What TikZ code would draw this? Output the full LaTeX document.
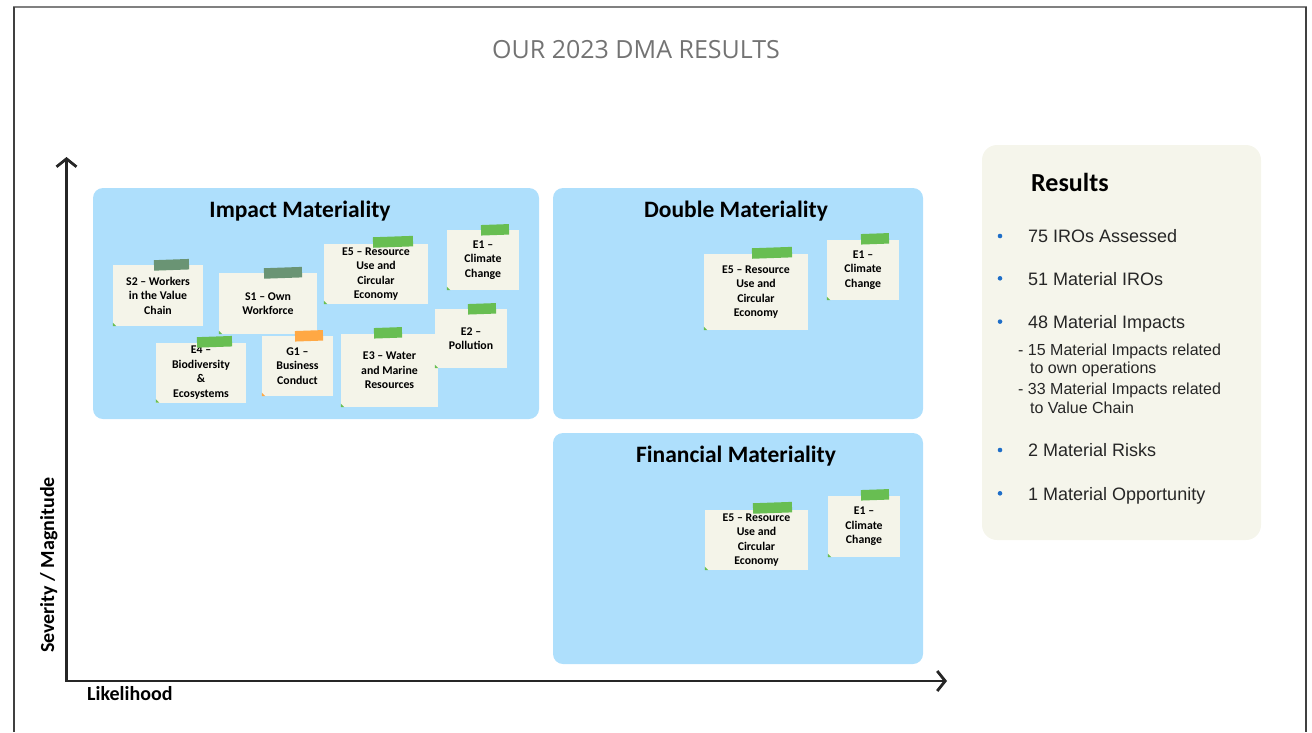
\documentclass[tikz,border=0pt]{standalone}
\usepackage{fontspec}
\setmainfont{Carlito}
\newfontfamily\helvfont{Liberation Sans}
\newfontfamily\titlefont{Open Sans}
\usetikzlibrary{arrows.meta,positioning}

\definecolor{boxblue}{RGB}{174,223,252}
\definecolor{notecream}{RGB}{244,244,233}
\definecolor{resbeige}{RGB}{245,245,235}
\definecolor{tapegreen}{RGB}{104,190,82}
\definecolor{tapegrey}{RGB}{106,148,116}
\definecolor{tapeorange}{RGB}{255,168,68}
\definecolor{axisdark}{RGB}{38,38,38}
\definecolor{titlegrey}{RGB}{115,115,115}
\definecolor{bulletblue}{RGB}{30,110,200}

\tikzset{
  quadrant/.style={fill=boxblue, rounded corners=10pt},
  quadtitle/.style={anchor=base, inner sep=0pt, font=\bfseries\fontsize{23.5}{28}\selectfont},
  note/.style 2 args={fill=notecream, align=center, inner sep=0pt,
    minimum width=#1, minimum height=#2,
    font=\bfseries\fontsize{11.8}{14.5}\selectfont},
  tape/.style 2 args={fill=#1, minimum width=#2, minimum height=10.5pt,
    inner sep=0pt, rotate=2},
  axis/.style={draw=axisdark, line width=2.8pt,
    -{Straight Barb[length=8pt,width=20pt]}},
  axislabel/.style={inner sep=0pt, font=\bfseries\fontsize{20}{24}\selectfont},
  resitem/.style={anchor=base west, inner sep=0pt, text=black!85,
    font=\helvfont\fontsize{18}{22}\selectfont},
  subitem/.style={anchor=base west, inner sep=0pt, text=black!85,
    font=\helvfont\fontsize{16}{19}\selectfont},
  bulletdot/.style={circle, fill=bulletblue, inner sep=0pt, minimum size=4.6pt}
}

\begin{document}
\begin{tikzpicture}[x=1pt,y=-1pt]
\useasboundingbox (0,0) rectangle (1312,732);

% Slide frame
\draw[line width=2pt, black!50] (13,6.5) -- (1307,6.5);
\draw[line width=2pt, black!75] (14,7) -- (14,732);
\draw[line width=2pt, black!75] (1306,7) -- (1306,732);

% Title
\node[anchor=base, inner sep=0pt, text=titlegrey,
  font=\titlefont\fontsize{25}{30}\selectfont] (title) at (636,58) {OUR 2023 DMA RESULTS};

% Axes
\coordinate (O) at (66.5,681);
\coordinate (Ytop) at (66.5,157);
\coordinate (Xend) at (947,681);
\draw[axis] (O) -- (Ytop);
\draw[axis] ([xshift=-1.4pt]O) -- (Xend);
\node[axislabel, anchor=base west] (xlabel) at (87,700) {Likelihood};
\node[axislabel, anchor=base, rotate=90] (ylabel) at (54,565) {Severity / Magnitude};

% The three quadrants
\fill[quadrant] (93,188) rectangle (539,419);
\fill[quadrant] (553,188) rectangle (923,419);
\fill[quadrant] (553,433) rectangle (923,664);
\node[quadtitle] (impact) at (300,217) {Impact Materiality};
\node[quadtitle] (double) at (736,217) {Double Materiality};
\node[quadtitle] (financial) at (736,462) {Financial Materiality};

% Sticky notes: Impact Materiality
\node[note={90pt}{61pt}] (s2) at (158,295.5) {S2 – Workers\\in the Value\\Chain};
\node[tape={tapegrey}{35pt}] (s2tape) at ([xshift=13.5pt,yshift=0pt]s2.north) {};
\node[note={98pt}{61pt}] (s1) at (268,303.5) {S1 – Own\\Workforce};
\node[tape={tapegrey}{38pt}] (s1tape) at ([xshift=15pt]s1.north) {};
\node[note={104pt}{60pt}] (e5i) at (376,274) {E5 – Resource\\Use and\\Circular\\Economy};
\node[tape={tapegreen}{40pt}] (e5itape) at ([xshift=17pt,yshift=2pt]e5i.north) {};
\node[note={72pt}{60pt}] (e1i) at (483,260) {E1 –\\Climate\\Change};
\node[tape={tapegreen}{28pt}] (e1itape) at ([xshift=12pt]e1i.north) {};
\node[note={72pt}{59pt}] (e2i) at (471,338.5) {E2 –\\Pollution};
\node[tape={tapegreen}{28pt}] (e2itape) at ([xshift=11pt]e2i.north) {};
\node[note={90pt}{60pt}] (e4i) at (201,372.5) {E4 –\\Biodiversity\\\&\\Ecosystems};
\node[tape={tapegreen}{35pt}] (e4itape) at ([xshift=13.5pt,yshift=0.5pt]e4i.north) {};
\node[note={71pt}{60pt}] (g1) at (297.5,366) {G1 –\\Business\\Conduct};
\node[tape={tapeorange}{28pt}] (g1tape) at ([xshift=11.5pt]g1.north) {};
\node[note={97pt}{73pt}] (e3i) at (389.5,370.5) {E3 – Water\\and Marine\\Resources};
\node[tape={tapegreen}{28pt}] (e3itape) at ([xshift=-1.5pt,yshift=1pt]e3i.north) {};

% Sticky notes: Double Materiality
\node[note={104pt}{76pt}] (e5d) at (756,292) {E5 – Resource\\Use and\\Circular\\Economy};
\node[tape={tapegreen}{40pt}] (e5dtape) at ([xshift=16pt,yshift=1pt]e5d.north) {};
\node[note={72pt}{60pt}] (e1d) at (863,270) {E1 –\\Climate\\Change};
\node[tape={tapegreen}{28pt}] (e1dtape) at ([xshift=12pt,yshift=1pt]e1d.north) {};

% Sticky notes: Financial Materiality
\node[note={103pt}{60pt}] (e5f) at (756.5,540) {E5 – Resource\\Use and\\Circular\\Economy};
\node[tape={tapegreen}{39pt}] (e5ftape) at ([xshift=16pt,yshift=2pt]e5f.north) {};
\node[note={72pt}{61pt}] (e1f) at (864,526.5) {E1 –\\Climate\\Change};
\node[tape={tapegreen}{28pt}] (e1ftape) at ([xshift=11pt,yshift=1pt]e1f.north) {};

% Little folded corners
\foreach \n/\c in {s2/tapegreen,s1/tapegreen,e5i/tapegreen,e1i/tapegreen,
  e2i/tapegreen,e4i/tapegreen,g1/tapeorange,e3i/tapegreen,
  e5d/tapegreen,e1d/tapegreen,e5f/tapegreen,e1f/tapegreen}
  \fill[\c] (\n.south west) -- ++(3.5,0) -- ++(-3.5,-3.5) -- cycle;

% Results panel
\fill[resbeige, rounded corners=15pt] (982,145) rectangle (1261,540);
\node[anchor=base west, inner sep=0pt, font=\bfseries\fontsize{26}{30}\selectfont]
  (results) at (1031,191.7) {Results};
\foreach \yy/\txt [count=\i] in {242.7/75 IROs Assessed, 285/51 Material IROs,
  328.3/48 Material Impacts, 456.7/2 Material Risks, 500/1 Material Opportunity}{
  \node[bulletdot] (dot\i) at (1000,\yy-6.7) {};
  \node[resitem] (item\i) at (1028,\yy) {\txt};
}
\node[subitem] (sub1) at (1018,355) {- 15 Material Impacts related};
\node[subitem] (sub1b) at (1030,373.5) {to own operations};
\node[subitem] (sub2) at (1018,394.3) {- 33 Material Impacts related};
\node[subitem] (sub2b) at (1030,413.3) {to Value Chain};

\end{tikzpicture}
\end{document}
